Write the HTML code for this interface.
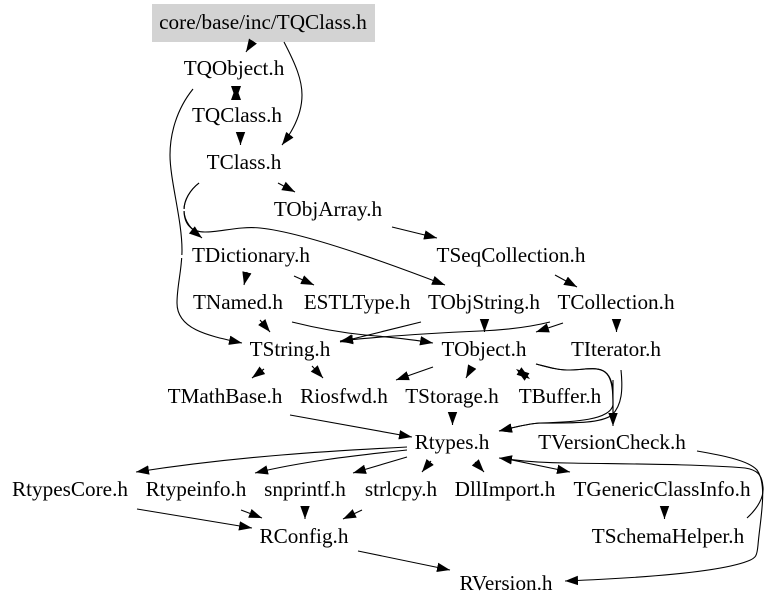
<!DOCTYPE html>
<html>
<head>
<meta charset="utf-8">
<style>
html,body{margin:0;padding:0;background:#fff;}
svg{display:block;}
text{font-family:"Liberation Serif",serif;font-size:21.2px;fill:#000;text-anchor:middle;}
path.e{fill:none;stroke:#000;stroke-width:1.1;}
</style>
</head>
<body>
<svg width="768" height="608" viewBox="0 0 768 608" xmlns="http://www.w3.org/2000/svg">
<defs>
<marker id="a" markerUnits="userSpaceOnUse" markerWidth="14" markerHeight="11" refX="13" refY="5" orient="auto">
<path d="M0,0.3 L13,5 L0,9.7 z" fill="#000"/>
</marker>
</defs>
<rect x="152" y="4" width="223" height="38" fill="#d3d3d3"/>

<g>
<path class="e" marker-end="url(#a)" d="M253,41 L246,52"/>
<path class="e" marker-end="url(#a)" d="M284,42 C296,65 302,80 302,95 C302,115 292,132 282,145"/>
<polygon points="231,86 241,86 236,100" fill="#000"/>
<polygon points="231,100 241,100 236,86" fill="#000"/>
<path class="e" marker-end="url(#a)" d="M240.5,132 L240.5,145"/>
<path class="e" marker-end="url(#a)" d="M278,183 L295,192"/>
<path class="e" marker-end="url(#a)" d="M193,89 C176,110 170,135 170,155 C170,180 182,220 182,250 C182,270 177,285 177,303 C177,330 210,336 242,343"/>
<path class="e" marker-end="url(#a)" d="M199,183 C190,190 184,200 184,210 C184,222 192,230 202,238"/>
<path class="e" marker-end="url(#a)" d="M199,183 C190,190 184,200 184,210 C184,225 192,232 205,232 C220,232 240,226 260,228 C300,232 380,260 445,285"/>
<path class="e" marker-end="url(#a)" d="M392,227 L437,238"/>
<path class="e" marker-end="url(#a)" d="M555,275 L577,287"/>
<path class="e" marker-end="url(#a)" d="M247,272 L244,285"/>
<path class="e" marker-end="url(#a)" d="M294,276 L314,285"/>
<path class="e" marker-end="url(#a)" d="M260,320 L270,332"/>
<path class="e" marker-end="url(#a)" d="M292,322 C320,329 345,333 365,335 C390,337 410,339 433,343"/>
<path class="e" marker-end="url(#a)" d="M421,322 L340,342"/>
<path class="e" marker-end="url(#a)" d="M550,322 C530,327 505,330 480,331 C435,333 385,336 340,341"/>
<path class="e" marker-end="url(#a)" d="M484.5,319 L484.5,332"/>
<path class="e" marker-end="url(#a)" d="M563,323 L536,332"/>
<path class="e" marker-end="url(#a)" d="M616.5,319 L616.5,332"/>
<path class="e" marker-end="url(#a)" d="M264,369 L252,378"/>
<path class="e" marker-end="url(#a)" d="M312,366 L323,378"/>
<path class="e" marker-end="url(#a)" d="M433,367 L396,380"/>
<path class="e" marker-end="url(#a)" d="M472,367 L466,378"/>
<polygon points="516.6,374.8 521.4,367.2 530,379" fill="#000"/>
<polygon points="516,369 524.6,380.8 529.4,373.2" fill="#000"/>
<path class="e" d="M536,364 C548,367 558,370 567,370 C585,370 597,366 605,372 C613,378 613,390 613,400 L613,414"/>
<path class="e" marker-end="url(#a)" d="M613,380 L613,426"/>
<path class="e" marker-end="url(#a)" d="M621,370 C623,390 622,405 612,415 C600,424 570,423 540,423 C525,424 512,428 499,431"/>
<path class="e" marker-end="url(#a)" d="M536,364 C548,367 558,370 567,370 C585,370 597,366 605,372 C613,378 613,395 613,405 C610,420 575,422 540,423 C525,424 512,428 499,431"/>
<path class="e" marker-end="url(#a)" d="M452.5,412 L452.5,425"/>
<path class="e" marker-end="url(#a)" d="M290,415 L412,437"/>
<path class="e" marker-end="url(#a)" d="M697,451 C720,455 748,460 757,470 C768,485 760,520 758,545 C757,556 756,558 748,561 C720,572 640,578 565,581"/>
<path class="e" marker-end="url(#a)" d="M747,518 C758,508 764,497 763,487 C762,475 758,470 745,468 C700,464 620,464 567,463 C540,463 520,461 499,458"/>
<path class="e" marker-end="url(#a)" d="M507,459 L570,472"/>
<path class="e" marker-end="url(#a)" d="M664.5,506 L664.5,519"/>
<path class="e" marker-end="url(#a)" d="M407,447 C330,451 240,456 136,472"/>
<path class="e" marker-end="url(#a)" d="M407,450 C350,456 300,462 255,473"/>
<path class="e" marker-end="url(#a)" d="M407,457 L353,473"/>
<path class="e" marker-end="url(#a)" d="M431,461 L422,472"/>
<path class="e" marker-end="url(#a)" d="M475,462 L484,472"/>
<path class="e" marker-end="url(#a)" d="M137,509 L252,528"/>
<path class="e" marker-end="url(#a)" d="M241,510 L262,518"/>
<path class="e" marker-end="url(#a)" d="M305,506 L305,519"/>
<path class="e" marker-end="url(#a)" d="M362,510 L343,519"/>
<path class="e" marker-end="url(#a)" d="M358,551 L450,570"/>
</g>

<rect x="180" y="255" width="4" height="3" fill="#fff"/>
<rect x="183" y="209" width="3" height="2" fill="#fff"/>

<text x="263" y="29">core/base/inc/TQClass.h</text>
<text x="234" y="75">TQObject.h</text>
<text x="237" y="122">TQClass.h</text>
<text x="244" y="169">TClass.h</text>
<text x="328" y="216">TObjArray.h</text>
<text x="251" y="262">TDictionary.h</text>
<text x="511" y="262">TSeqCollection.h</text>
<text x="238" y="309">TNamed.h</text>
<text x="357" y="309">ESTLType.h</text>
<text x="484" y="309">TObjString.h</text>
<text x="616" y="309">TCollection.h</text>
<text x="290" y="356">TString.h</text>
<text x="484" y="356">TObject.h</text>
<text x="616" y="356">TIterator.h</text>
<text x="225" y="403">TMathBase.h</text>
<text x="344" y="403">Riosfwd.h</text>
<text x="452" y="403">TStorage.h</text>
<text x="560" y="403">TBuffer.h</text>
<text x="452" y="449">Rtypes.h</text>
<text x="612" y="449">TVersionCheck.h</text>
<text x="70" y="496">RtypesCore.h</text>
<text x="196" y="496">Rtypeinfo.h</text>
<text x="305" y="496">snprintf.h</text>
<text x="401" y="496">strlcpy.h</text>
<text x="505" y="496">DllImport.h</text>
<text x="662" y="496">TGenericClassInfo.h</text>
<text x="304" y="543">RConfig.h</text>
<text x="668" y="543">TSchemaHelper.h</text>
<text x="506" y="590">RVersion.h</text>
</svg>
</body>
</html>
